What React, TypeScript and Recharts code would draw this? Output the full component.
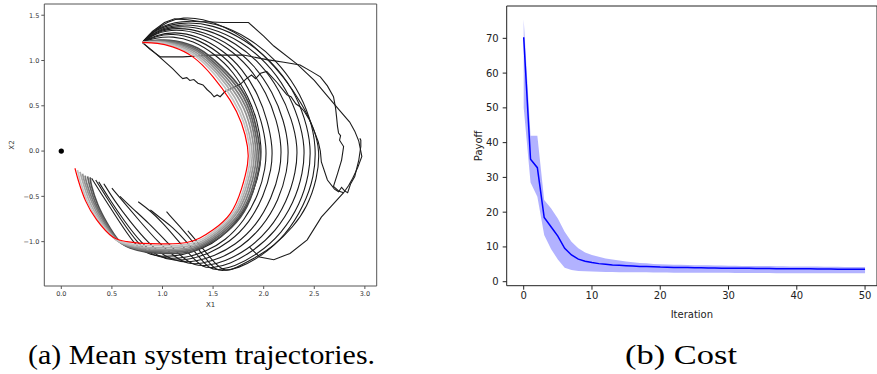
import React from 'react';
import { ComposedChart, Line, Area, XAxis, YAxis, ZAxis, Scatter, ReferenceArea } from 'recharts';

// ---------- Panel (a): mean system trajectories ----------
const xTicksA = [0, 0.5, 1.0, 1.5, 2.0, 2.5, 3.0];
const yTicksA = [-1.0, -0.5, 0.0, 0.5, 1.0, 1.5];
const origin = [{ x: 0, y: 0 }];

const redCurve = [[0.80,1.20],[0.95,1.19],[1.10,1.15],[1.30,1.04],[1.50,0.82],[1.67,0.56],[1.78,0.31],[1.84,0.05],[1.84,-0.15],[1.78,-0.42],[1.67,-0.69],[1.50,-0.87],[1.37,-0.96],[1.24,-1.01],[1.04,-1.025],[0.80,-1.02],[0.65,-1.00],[0.51,-0.95],[0.35,-0.76],[0.24,-0.55],[0.17,-0.33],[0.135,-0.19]];

const gray1 = [[0.80,1.20],[0.95,1.20],[1.10,1.165],[1.31,1.06],[1.52,0.84],[1.695,0.57],[1.805,0.31],[1.86,0.05],[1.86,-0.15],[1.80,-0.43],[1.685,-0.70],[1.51,-0.885],[1.38,-0.98],[1.245,-1.03],[1.04,-1.045],[0.80,-1.04],[0.65,-1.02],[0.52,-0.96],[0.37,-0.77],[0.26,-0.56],[0.19,-0.34],[0.16,-0.21]];
const gray2 = [[0.80,1.20],[0.955,1.205],[1.11,1.175],[1.32,1.075],[1.535,0.86],[1.715,0.59],[1.825,0.32],[1.88,0.05],[1.88,-0.15],[1.815,-0.44],[1.70,-0.71],[1.52,-0.90],[1.39,-0.995],[1.25,-1.05],[1.04,-1.065],[0.80,-1.06],[0.66,-1.035],[0.53,-0.97],[0.385,-0.77],[0.28,-0.56],[0.215,-0.35],[0.185,-0.23]];
const gray3 = [[0.80,1.20],[0.96,1.21],[1.115,1.185],[1.33,1.09],[1.55,0.875],[1.735,0.61],[1.85,0.33],[1.90,0.05],[1.90,-0.15],[1.835,-0.445],[1.715,-0.715],[1.535,-0.91],[1.40,-1.01],[1.255,-1.07],[1.045,-1.085],[0.81,-1.075],[0.665,-1.045],[0.54,-0.975],[0.40,-0.775],[0.30,-0.56],[0.235,-0.36],[0.21,-0.25]];
const gray4 = [[0.80,1.20],[0.96,1.215],[1.12,1.195],[1.34,1.105],[1.56,0.895],[1.75,0.635],[1.87,0.345],[1.92,0.05],[1.92,-0.15],[1.855,-0.45],[1.735,-0.72],[1.55,-0.92],[1.41,-1.02],[1.26,-1.085],[1.045,-1.10],[0.81,-1.09],[0.67,-1.055],[0.55,-0.98],[0.42,-0.78],[0.32,-0.57],[0.255,-0.37],[0.235,-0.27]];
const gray5 = [[0.80,1.20],[0.965,1.22],[1.125,1.205],[1.345,1.12],[1.57,0.915],[1.765,0.66],[1.885,0.36],[1.94,0.05],[1.94,-0.15],[1.875,-0.455],[1.75,-0.725],[1.565,-0.93],[1.42,-1.03],[1.265,-1.10],[1.05,-1.115],[0.82,-1.10],[0.675,-1.06],[0.56,-0.985],[0.435,-0.785],[0.34,-0.58],[0.28,-0.38],[0.26,-0.28]];
const gray6 = [[0.80,1.20],[0.97,1.225],[1.13,1.215],[1.35,1.135],[1.58,0.935],[1.78,0.68],[1.90,0.375],[1.96,0.05],[1.96,-0.15],[1.89,-0.46],[1.77,-0.73],[1.58,-0.94],[1.43,-1.04],[1.27,-1.115],[1.05,-1.13],[0.82,-1.11],[0.68,-1.07],[0.57,-0.99],[0.45,-0.79],[0.36,-0.59],[0.30,-0.39],[0.285,-0.29]];

const black1 = [[0.80,1.20],[0.93,1.25],[1.10,1.27],[1.30,1.22],[1.52,1.07],[1.70,0.88],[1.85,0.60],[1.94,0.33],[1.98,0.05],[1.97,-0.18],[1.90,-0.46],[1.77,-0.74],[1.58,-0.96],[1.40,-1.08],[1.20,-1.15],[1.00,-1.17],[0.85,-1.14],[0.72,-1.03],[0.55,-0.74],[0.40,-0.48],[0.30,-0.30]];
const black2 = [[0.80,1.20],[0.93,1.27],[1.10,1.30],[1.32,1.25],[1.55,1.10],[1.74,0.90],[1.89,0.61],[1.98,0.33],[2.03,0.05],[2.02,-0.19],[1.95,-0.48],[1.81,-0.77],[1.62,-0.99],[1.43,-1.11],[1.23,-1.18],[1.05,-1.19],[0.90,-1.15],[0.76,-1.03],[0.59,-0.76],[0.44,-0.50],[0.34,-0.32]];
const black3 = [[0.80,1.20],[0.93,1.28],[1.12,1.32],[1.35,1.27],[1.59,1.12],[1.79,0.91],[1.95,0.62],[2.04,0.33],[2.09,0.05],[2.08,-0.20],[2.00,-0.50],[1.86,-0.79],[1.66,-1.01],[1.46,-1.13],[1.27,-1.20],[1.10,-1.21],[0.95,-1.16],[0.80,-1.03],[0.62,-0.77],[0.47,-0.52],[0.37,-0.34]];
const black4 = [[0.80,1.20],[0.93,1.30],[1.13,1.35],[1.38,1.30],[1.64,1.15],[1.86,0.93],[2.03,0.64],[2.13,0.34],[2.18,0.05],[2.165,-0.21],[2.08,-0.52],[1.93,-0.82],[1.72,-1.04],[1.51,-1.16],[1.33,-1.22],[1.18,-1.23],[1.03,-1.17],[0.87,-1.03],[0.68,-0.78],[0.52,-0.54],[0.42,-0.36]];
const black5 = [[0.80,1.20],[0.93,1.31],[1.14,1.37],[1.41,1.32],[1.68,1.17],[1.91,0.95],[2.09,0.65],[2.20,0.34],[2.25,0.05],[2.235,-0.22],[2.15,-0.54],[1.99,-0.84],[1.77,-1.07],[1.56,-1.19],[1.39,-1.245],[1.25,-1.25],[1.12,-1.17],[0.96,-1.01],[0.78,-0.78],[0.62,-0.57],[0.50,-0.41]];
const black6 = [[0.80,1.20],[0.93,1.32],[1.15,1.39],[1.44,1.35],[1.73,1.19],[1.97,0.97],[2.16,0.67],[2.28,0.35],[2.34,0.05],[2.32,-0.23],[2.23,-0.56],[2.06,-0.87],[1.83,-1.10],[1.61,-1.22],[1.45,-1.265],[1.32,-1.27],[1.19,-1.17],[1.04,-1.00],[0.86,-0.79],[0.70,-0.63],[0.58,-0.50]];
const black7 = [[0.80,1.20],[0.93,1.33],[1.16,1.41],[1.47,1.37],[1.78,1.21],[2.03,0.98],[2.23,0.68],[2.35,0.35],[2.41,0.05],[2.39,-0.24],[2.30,-0.57],[2.12,-0.89],[1.88,-1.12],[1.66,-1.25],[1.50,-1.29],[1.40,-1.29],[1.28,-1.16],[1.14,-0.97],[1.00,-0.79],[0.88,-0.66],[0.76,-0.56]];
const black8 = [[0.80,1.20],[0.92,1.34],[1.17,1.43],[1.50,1.40],[1.82,1.23],[2.08,0.99],[2.29,0.69],[2.41,0.36],[2.47,0.05],[2.45,-0.26],[2.36,-0.59],[2.18,-0.91],[1.93,-1.15],[1.70,-1.28],[1.56,-1.31],[1.47,-1.31],[1.36,-1.17],[1.23,-0.99],[1.10,-0.84],[0.98,-0.74],[0.88,-0.65]];
const black9 = [[0.80,1.20],[0.92,1.35],[1.18,1.45],[1.53,1.42],[1.86,1.25],[2.12,1.01],[2.33,0.70],[2.46,0.37],[2.52,0.05],[2.50,-0.28],[2.40,-0.60],[2.22,-0.93],[1.97,-1.17],[1.74,-1.30],[1.60,-1.32],[1.53,-1.32],[1.42,-1.18],[1.30,-1.00],[1.17,-0.83],[1.04,-0.67]];
const black10 = [[0.80,1.20],[0.92,1.33],[1.05,1.43],[1.20,1.48],[1.40,1.46],[1.60,1.38],[1.80,1.26],[2.00,1.06],[2.20,0.82],[2.38,0.52],[2.50,0.25],[2.556,0.0],[2.53,-0.30],[2.43,-0.62],[2.29,-0.84],[2.10,-1.05],[1.90,-1.19],[1.72,-1.29],[1.62,-1.34],[1.50,-1.22],[1.38,-1.05],[1.25,-0.88]];

const wildTop = [[0.80,1.20],[0.90,1.32],[1.02,1.42],[1.12,1.46],[1.25,1.45],[1.37,1.43],[1.60,1.42],[1.85,1.42],[2.00,1.27],[2.10,1.16],[2.33,0.96],[2.50,0.78],[2.62,0.62],[2.75,0.45],[2.85,0.32],[2.90,0.22],[2.94,0.11],[2.97,-0.06],[2.93,-0.18],[2.88,-0.30],[2.84,-0.38],[2.79,-0.46],[2.57,-0.73],[2.43,-0.98],[2.26,-1.13],[2.10,-1.20],[1.96,-1.17],[1.86,-1.06]];
const wildMid = [[0.80,1.20],[0.88,1.12],[0.98,1.04],[1.20,1.04],[1.50,1.06],[1.80,1.06],[2.03,1.01],[2.20,0.98],[2.36,0.95],[2.47,0.88],[2.56,0.82],[2.63,0.72],[2.69,0.60],[2.71,0.48],[2.72,0.38],[2.73,0.27],[2.74,0.20],[2.76,0.17],[2.75,0.12],[2.79,0.05],[2.77,-0.10],[2.73,-0.25],[2.69,-0.39],[2.74,-0.44],[2.79,-0.46]];
const jagged = [[0.80,1.20],[0.90,1.11],[1.00,1.01],[1.10,0.91],[1.17,0.83],[1.20,0.80],[1.24,0.81],[1.27,0.78],[1.31,0.79],[1.35,0.75],[1.40,0.73],[1.44,0.68],[1.48,0.64],[1.51,0.60],[1.54,0.62],[1.57,0.60],[1.62,0.66],[1.70,0.70],[1.77,0.74],[1.83,0.80],[1.88,0.84],[1.92,0.80],[1.97,0.86],[2.03,0.88],[2.08,0.82],[2.13,0.76],[2.18,0.69],[2.23,0.62],[2.27,0.60],[2.32,0.52],[2.36,0.49],[2.40,0.44],[2.45,0.35],[2.50,0.22],[2.54,0.10],[2.56,0.0],[2.57,-0.12],[2.63,-0.32],[2.70,-0.42],[2.74,-0.45],[2.77,-0.40],[2.80,-0.44],[2.83,-0.46],[2.86,-0.36],[2.90,-0.28],[2.94,-0.10],[2.96,0.05],[2.96,0.12],[2.95,0.14]];

const blackCurves = [black1, black2, black3, black4, black5, black6, black7, black8, black9, black10];
const grayCurves = [gray6, gray5, gray4, gray3, gray2, gray1];
const grayColors = ['#4c4c4c', '#646464', '#7c7c7c', '#949494', '#acacac', '#c4c4c4'];
const wildCurves = [wildTop, wildMid, jagged];

// ---------- Panel (b): cost ----------
const iterations = Array.from({ length: 51 }, (_, i) => i);
const meanPayoff = [70.3,35.2,32.8,18.5,15.8,13.1,9.6,7.7,6.5,5.9,5.5,5.2,5.0,4.8,4.7,4.6,4.5,4.4,4.35,4.3,4.2,4.15,4.1,4.1,4.05,4.0,4.0,3.95,3.95,3.9,3.9,3.85,3.85,3.85,3.8,3.8,3.8,3.75,3.75,3.75,3.7,3.7,3.7,3.65,3.65,3.65,3.6,3.6,3.6,3.55,3.55];
const upperPayoff = [75.5,42,42,23.5,21.1,18.2,14.4,11.5,9.6,8.4,7.7,7.2,6.7,6.4,6.1,5.8,5.6,5.4,5.3,5.1,5.0,4.95,4.9,4.85,4.8,4.75,4.7,4.7,4.65,4.65,4.6,4.6,4.55,4.55,4.5,4.5,4.5,4.45,4.45,4.4,4.4,4.4,4.35,4.35,4.3,4.3,4.3,4.25,4.25,4.2,4.2];
const lowerPayoff = [50,28.5,24.4,13.4,9.4,6.4,4.0,3.4,3.1,3.0,2.9,2.85,2.8,2.8,2.75,2.75,2.7,2.7,2.7,2.65,2.65,2.65,2.6,2.6,2.6,2.6,2.55,2.55,2.55,2.55,2.55,2.5,2.5,2.5,2.5,2.5,2.5,2.45,2.45,2.45,2.45,2.45,2.45,2.45,2.4,2.4,2.4,2.4,2.4,2.4,2.4];
const xTicksB = [0, 10, 20, 30, 40, 50];
const yTicksB = [0, 10, 20, 30, 40, 50, 60, 70];

const costData = iterations.map((it, i) => ({
  it,
  mean: meanPayoff[i],
  band: [lowerPayoff[i], upperPayoff[i]],
}));

const toPts = (arr: number[][]) => arr.map(([x, y]) => ({ x, y }));
const fmtA = (v: number) => v.toFixed(1).replace('-', '\u2212');

const XA: [number, number] = [-0.168, 3.117];
const YA: [number, number] = [-1.49, 1.624];
const XB: [number, number] = [-2.49, 51.75];
const YB: [number, number] = [-1.15, 79.3];

const serif = "'Liberation Serif', 'DejaVu Serif', serif";

export default function App() {
  const tickA = { fontSize: 6.5, fill: '#333', fontFamily: 'DejaVu Sans' };
  const tickB = { fontSize: 10, fill: '#222', fontFamily: 'DejaVu Sans' };
  return (
    <div style={{ position: 'absolute', left: 0, top: 0, width: 877, height: 374, background: '#fff', overflow: 'hidden' }}>
      <div style={{ position: 'absolute', left: 0, top: 0 }}>
        <ComposedChart width={380} height={310} margin={{ top: 4, right: 3.3, bottom: 0, left: 0 }}>
          <XAxis
            type="number"
            dataKey="x"
            domain={XA}
            ticks={xTicksA}
            allowDataOverflow
            height={24}
            axisLine={false}
            tickLine={{ stroke: '#555' }}
            tickSize={3}
            tickMargin={2}
            tick={tickA}
            tickFormatter={fmtA}
            label={{ value: 'X1', position: 'insideBottom', offset: 3, style: { fontSize: 7, fill: '#333', fontFamily: 'DejaVu Sans' } }}
          />
          <YAxis
            type="number"
            dataKey="y"
            domain={YA}
            ticks={yTicksA}
            allowDataOverflow
            width={44.3}
            axisLine={false}
            tickLine={{ stroke: '#555' }}
            tickSize={3}
            tickMargin={2}
            tick={tickA}
            tickFormatter={fmtA}
            label={{ value: 'X2', angle: -90, position: 'insideLeft', offset: 12, style: { fontSize: 7, fill: '#333', fontFamily: 'DejaVu Sans', textAnchor: 'middle' } }}
          />
          <ZAxis range={[22, 22]} />
          {blackCurves.map((c, i) => (
            <Line key={'b' + i} data={toPts(c)} dataKey="y" type="basis" stroke="#1c1c1c" strokeWidth={1.1} dot={false} isAnimationActive={false} />
          ))}
          {wildCurves.map((c, i) => (
            <Line key={'w' + i} data={toPts(c)} dataKey="y" type="linear" stroke="#1c1c1c" strokeWidth={1.1} dot={false} isAnimationActive={false} />
          ))}
          {grayCurves.map((c, i) => (
            <Line key={'g' + i} data={toPts(c)} dataKey="y" type="natural" stroke={grayColors[i]} strokeWidth={1.7} dot={false} isAnimationActive={false} />
          ))}
          <Line data={toPts(redCurve)} dataKey="y" type="natural" stroke="#ff0000" strokeWidth={1.2} dot={false} isAnimationActive={false} />
          <Scatter data={origin} fill="#000" isAnimationActive={false} />
          <ReferenceArea x1={XA[0]} x2={XA[1]} y1={YA[0]} y2={YA[1]} fill="none" stroke="#555" strokeWidth={1} ifOverflow="visible" />
        </ComposedChart>
      </div>

      <div style={{ position: 'absolute', left: 460, top: 0 }}>
        <ComposedChart width={417} height={320} data={costData} margin={{ top: 6, right: 0, bottom: 0, left: 0 }}>
          <XAxis
            type="number"
            dataKey="it"
            domain={XB}
            ticks={xTicksB}
            allowDataOverflow
            height={34.3}
            axisLine={false}
            tickLine={{ stroke: '#222' }}
            tickSize={4}
            tickMargin={2}
            tick={tickB}
            label={{ value: 'Iteration', position: 'insideBottom', offset: 2, style: { fontSize: 10, fill: '#222', fontFamily: 'DejaVu Sans' } }}
          />
          <YAxis
            type="number"
            domain={YB}
            ticks={yTicksB}
            allowDataOverflow
            width={46.7}
            axisLine={false}
            tickLine={{ stroke: '#222' }}
            tickSize={4}
            tickMargin={4}
            tick={tickB}
            label={{ value: 'Payoff', angle: -90, position: 'insideLeft', offset: 18, style: { fontSize: 10, fill: '#222', fontFamily: 'DejaVu Sans', textAnchor: 'middle' } }}
          />
          <Area dataKey="band" type="linear" fill="#0000ff" fillOpacity={0.3} stroke="none" isAnimationActive={false} />
          <Line dataKey="mean" type="linear" stroke="#0000ff" strokeWidth={1.5} dot={false} isAnimationActive={false} />
          <ReferenceArea x1={XB[0]} x2={XB[1]} y1={YB[0]} y2={YB[1]} fill="none" stroke="#222" strokeWidth={1} ifOverflow="visible" />
        </ComposedChart>
      </div>

      <svg width={877} height={374} style={{ position: 'absolute', left: 0, top: 0, pointerEvents: 'none' }}>
        <text x={28} y={364} style={{ fontFamily: serif }} fontSize={27} fill="#000" textLength={347} lengthAdjust="spacingAndGlyphs">(a) Mean system trajectories.</text>
        <text x={625} y={364} style={{ fontFamily: serif }} fontSize={27} fill="#000" textLength={112} lengthAdjust="spacingAndGlyphs">(b) Cost</text>
      </svg>
    </div>
  );
}
